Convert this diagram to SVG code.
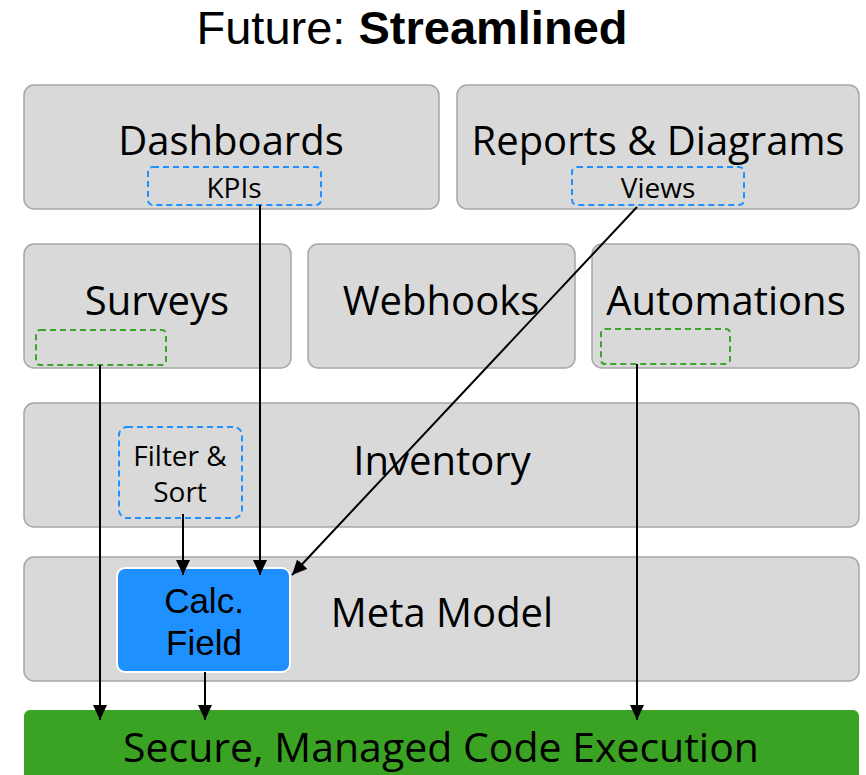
<svg xmlns="http://www.w3.org/2000/svg" width="866" height="775" viewBox="0 0 866 775">
<defs>
<style>
.box{fill:#d9d9d9;stroke:#a6a6a6;stroke-width:1.5}
.t{font-family:"Open Sans","Noto Sans","Liberation Sans",sans-serif;fill:#000;text-anchor:middle}
.lib{font-family:"Liberation Sans",Arial,sans-serif}
.big{font-size:40px}
.sm{font-size:28px}
.dblue{fill:none;stroke:#1e90ff;stroke-width:2;stroke-dasharray:6 4}
.dgreen{fill:none;stroke:#3aa52a;stroke-width:2;stroke-dasharray:6 4}
.con{stroke:#000;stroke-width:2;fill:none;marker-end:url(#arr)}
</style>
<marker id="arr" markerUnits="userSpaceOnUse" markerWidth="16" markerHeight="14" refX="15" refY="7" orient="auto">
<path d="M0,0 L15,7 L0,14 z" fill="#000"/>
</marker>
</defs>
<rect width="866" height="775" fill="#fff"/>
<text x="412" y="44" class="t lib" style="font-size:47px">Future: <tspan font-weight="bold">Streamlined</tspan></text>

<g id="dashboards">
<rect class="box" x="24" y="85" width="415" height="124" rx="10"/>
<text x="231" y="155" class="t big">Dashboards</text>
<rect class="dblue" x="148" y="167" width="173" height="38" rx="5"/>
<text x="234" y="198" class="t sm">KPIs</text>
</g>
<g id="reports">
<rect class="box" x="457" y="85" width="402" height="124" rx="10"/>
<text x="658" y="155" class="t big">Reports &amp; Diagrams</text>
<rect class="dblue" x="572" y="167" width="172" height="38" rx="5"/>
<text x="658" y="198" class="t sm">Views</text>
</g>
<g id="surveys">
<rect class="box" x="24" y="244" width="267" height="124" rx="10"/>
<text x="157" y="315" class="t big">Surveys</text>
<rect class="dgreen" x="36" y="330" width="130" height="35" rx="4"/>
</g>
<g id="webhooks">
<rect class="box" x="308" y="244" width="267" height="124" rx="10"/>
<text x="441" y="315" class="t big">Webhooks</text>
</g>
<g id="automations">
<rect class="box" x="592" y="244" width="267" height="124" rx="10"/>
<text x="726" y="315" class="t big">Automations</text>
<rect class="dgreen" x="601" y="329" width="129" height="35" rx="4"/>
</g>
<g id="inventory">
<rect class="box" x="24" y="403" width="835" height="124" rx="10"/>
<text x="442" y="475" class="t big">Inventory</text>
<rect class="dblue" x="119" y="427" width="123" height="91" rx="8"/>
<text x="180" y="466" class="t sm">Filter &amp;</text>
<text x="180" y="502" class="t sm">Sort</text>
</g>
<g id="metamodel">
<rect class="box" x="24" y="557" width="835" height="124" rx="10"/>
<text x="442" y="627" class="t big">Meta Model</text>
</g>
<g id="calcfield">
<rect x="117" y="568" width="173" height="104" rx="8" fill="#1e90ff" stroke="#fff" stroke-width="2"/>
<text x="204" y="613" class="t lib" style="font-size:35px">Calc.</text>
<text x="204" y="655" class="t lib" style="font-size:35px">Field</text>
</g>
<g id="execution">
<rect x="24" y="710" width="835" height="80" rx="6" fill="#3aa323"/>
<text x="441" y="762" class="t" style="font-size:41px">Secure, Managed Code Execution</text>
</g>

<g id="connectors">
<line class="con" x1="100" y1="365" x2="100" y2="720"/>
<line class="con" x1="260" y1="205" x2="260" y2="575"/>
<line class="con" x1="183" y1="514" x2="183" y2="575"/>
<line class="con" x1="637" y1="207" x2="292" y2="575"/>
<line class="con" x1="637" y1="364" x2="637" y2="720"/>
<line class="con" x1="205" y1="672" x2="205" y2="720"/>
</g>
</svg>
